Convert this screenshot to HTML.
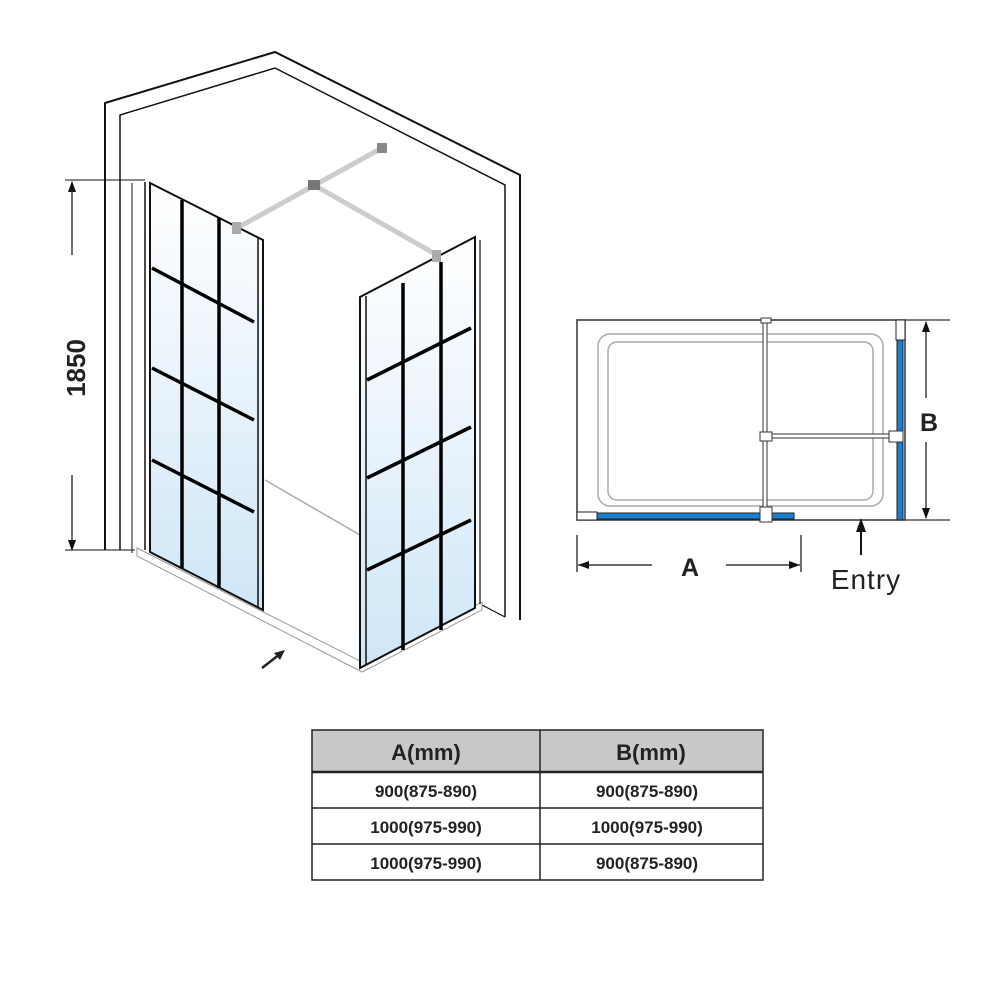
<!DOCTYPE html>
<html><head><style>
body{margin:0;background:#fff;width:1001px;height:1001px;overflow:hidden;font-family:"Liberation Sans",sans-serif}
svg{position:absolute;left:0;top:0}
</style></head><body>
<svg width="1001" height="1001" viewBox="0 0 1001 1001">
<defs>
<linearGradient id="g" x1="0" y1="0" x2="0" y2="1">
<stop offset="0" stop-color="#ffffff"/><stop offset="1" stop-color="#cfe6f7"/>
</linearGradient>
</defs>
<polyline points="105,550 105,103 275,52 520,175 520,620" fill="none" stroke="#111" stroke-width="2"/>
<polyline points="120,550 120,115 275,68 505,185 505,617" fill="none" stroke="#111" stroke-width="1.5"/>
<line x1="482" y1="605" x2="505" y2="617" stroke="#111" stroke-width="1.2"/>
<line x1="65" y1="180" x2="145" y2="180" stroke="#111" stroke-width="1"/>
<line x1="65" y1="550" x2="135" y2="550" stroke="#111" stroke-width="1"/>
<line x1="132" y1="183" x2="132" y2="553" stroke="#111" stroke-width="1"/>
<polygon points="137,548 362,662 482,602 482,610 362,672 137,556" fill="#fff" stroke="#999" stroke-width="1"/>
<polyline points="265,480 360,535" fill="none" stroke="#aaa" stroke-width="1.5"/>
<polygon points="150,183 263,240 263,610 150,552" fill="url(#g)" stroke="#111" stroke-width="2"/>
<line x1="258" y1="238" x2="258" y2="608" stroke="#111" stroke-width="1.5"/>
<line x1="145" y1="182" x2="145" y2="550" stroke="#111" stroke-width="1.5"/>
<g stroke="#000" stroke-width="3.5">
<line x1="182" y1="200" x2="182" y2="568"/>
<line x1="219" y1="218" x2="219" y2="588"/>
<line x1="152" y1="268" x2="254" y2="322"/>
<line x1="152" y1="368" x2="254" y2="420"/>
<line x1="152" y1="460" x2="254" y2="512"/>
</g>
<polygon points="360,297 475,237 475,608 360,668" fill="url(#g)" stroke="#111" stroke-width="2"/>
<line x1="366" y1="296" x2="366" y2="664" stroke="#111" stroke-width="1.5"/>
<line x1="480" y1="240" x2="480" y2="604" stroke="#111" stroke-width="1.2"/>
<g stroke="#000" stroke-width="3.5">
<line x1="403" y1="283" x2="403" y2="650"/>
<line x1="441" y1="262" x2="441" y2="630"/>
<line x1="367" y1="380" x2="471" y2="328"/>
<line x1="367" y1="478" x2="471" y2="427"/>
<line x1="367" y1="570" x2="471" y2="520"/>
</g>
<line x1="237" y1="228" x2="382" y2="148" stroke="#ccc" stroke-width="5"/>
<line x1="314" y1="185" x2="437" y2="255" stroke="#ccc" stroke-width="5"/>
<rect x="308" y="180" width="12" height="10" fill="#777"/>
<rect x="377" y="143" width="10" height="10" fill="#888"/>
<rect x="232" y="222" width="9" height="12" fill="#aaa"/>
<rect x="432" y="250" width="9" height="12" fill="#aaa"/>
<line x1="262" y1="668" x2="280" y2="654" stroke="#222" stroke-width="2.5"/>
<polygon points="285,650 274,653 280,660" fill="#222"/>
<line x1="72" y1="182" x2="72" y2="255" stroke="#111" stroke-width="1.2"/>
<line x1="72" y1="475" x2="72" y2="550" stroke="#111" stroke-width="1.2"/>
<polygon points="72,181 68,192 76,192" fill="#111"/>
<polygon points="72,551 68,540 76,540" fill="#111"/>
<text x="85" y="368" transform="rotate(-90 85 368)" text-anchor="middle" font-size="26" font-weight="bold" fill="#222">1850</text>
<rect x="577" y="320" width="328" height="200" fill="none" stroke="#333" stroke-width="1.5"/>
<line x1="905" y1="320" x2="950" y2="320" stroke="#333" stroke-width="1.2"/>
<line x1="905" y1="520" x2="950" y2="520" stroke="#333" stroke-width="1.2"/>
<rect x="598" y="334" width="285" height="172" rx="12" fill="none" stroke="#aaa" stroke-width="1.5"/>
<rect x="608" y="342" width="265" height="158" rx="9" fill="none" stroke="#aaa" stroke-width="1.5"/>
<rect x="597" y="513" width="197" height="6" fill="#1a7fd0" stroke="#222" stroke-width="1"/>
<rect x="577" y="512" width="20" height="8" fill="#fff" stroke="#222"/>
<rect x="897" y="340" width="6" height="180" fill="#1a7fd0" stroke="#222" stroke-width="1"/>
<rect x="896" y="320" width="9" height="20" fill="#fff" stroke="#222"/>
<rect x="763" y="322" width="4" height="190" fill="#fff" stroke="#333"/>
<rect x="767" y="434" width="126" height="4" fill="#fff" stroke="#333"/>
<rect x="760" y="432" width="12" height="9" fill="#fff" stroke="#333"/>
<rect x="889" y="431" width="14" height="11" fill="#fff" stroke="#333"/>
<rect x="760" y="507" width="12" height="15" fill="#fff" stroke="#333"/>
<rect x="761" y="318" width="10" height="5" fill="#fff" stroke="#333"/>
<line x1="926" y1="322" x2="926" y2="398" stroke="#111" stroke-width="1.2"/>
<line x1="926" y1="442" x2="926" y2="518" stroke="#111" stroke-width="1.2"/>
<polygon points="926,321 922,332 930,332" fill="#111"/>
<polygon points="926,519 922,508 930,508" fill="#111"/>
<text x="929" y="431" text-anchor="middle" font-size="25" font-weight="bold" fill="#222">B</text>
<line x1="577" y1="535" x2="577" y2="572" stroke="#111" stroke-width="1.2"/>
<line x1="801" y1="535" x2="801" y2="572" stroke="#111" stroke-width="1.2"/>
<line x1="578" y1="565" x2="652" y2="565" stroke="#111" stroke-width="1.2"/>
<line x1="726" y1="565" x2="800" y2="565" stroke="#111" stroke-width="1.2"/>
<polygon points="578,565 589,561 589,569" fill="#111"/>
<polygon points="800,565 789,561 789,569" fill="#111"/>
<text x="690" y="576" text-anchor="middle" font-size="25" font-weight="bold" fill="#222">A</text>
<line x1="861" y1="528" x2="861" y2="555" stroke="#111" stroke-width="2"/>
<polygon points="861,518 856,532 866,532" fill="#111"/>
<text x="866" y="589" text-anchor="middle" font-size="28" fill="#222" letter-spacing="1">Entry</text>
<rect x="312" y="730" width="451" height="42" fill="#c8c8c8"/>
<g stroke="#222" stroke-width="1.5" fill="none">
<rect x="312" y="730" width="451" height="150"/>
<line x1="312" y1="772" x2="763" y2="772" stroke-width="2.5"/>
<line x1="312" y1="808" x2="763" y2="808"/>
<line x1="312" y1="844" x2="763" y2="844"/>
<line x1="540" y1="730" x2="540" y2="880"/>
</g>
<g font-weight="bold" fill="#222" text-anchor="middle">
<text x="426" y="760" font-size="22">A(mm)</text>
<text x="651" y="760" font-size="22">B(mm)</text>
<text x="426" y="797" font-size="17">900(875-890)</text>
<text x="647" y="797" font-size="17">900(875-890)</text>
<text x="426" y="833" font-size="17">1000(975-990)</text>
<text x="647" y="833" font-size="17">1000(975-990)</text>
<text x="426" y="869" font-size="17">1000(975-990)</text>
<text x="647" y="869" font-size="17">900(875-890)</text>
</g>
</svg>
</body></html>
